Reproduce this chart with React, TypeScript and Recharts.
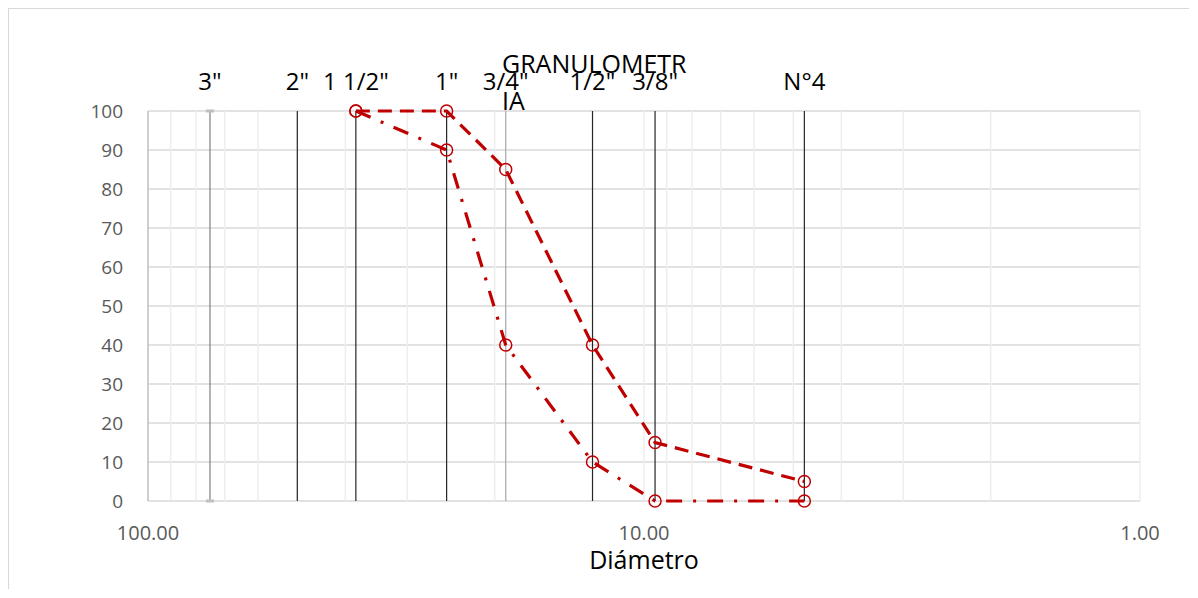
import React from "react";
import {
  ComposedChart,
  Line,
  XAxis,
  YAxis,
  CartesianGrid,
  ReferenceLine,
  ReferenceDot,
} from "recharts";

// Sieve openings (mm) and passing percentages
const sieveSizes = [38.1, 25, 19, 12.7, 9.5, 4.75];
const upperPassing = [100, 100, 85, 40, 15, 5];
const lowerPassing = [100, 90, 40, 10, 0, 0];

// Vertical sieve markers with their top labels
const sieveMarks = [
  { size: 75, label: '3"', color: "#7f7f7f" },
  { size: 50, label: '2"', color: "#262626" },
  { size: 38.1, label: '1 1/2"', color: "#262626" },
  { size: 25, label: '1"', color: "#262626" },
  { size: 19, label: '3/4"', color: "#a6a6a6" },
  { size: 12.7, label: '1/2"', color: "#262626" },
  { size: 9.5, label: '3/8"', color: "#262626" },
  { size: 4.75, label: "N°4", color: "#262626" },
];

const minorGrid = [90, 80, 70, 60, 50, 40, 30, 20, 10, 9, 8, 7, 6, 5, 4, 3, 2, 1];
const xTicks = [100, 10, 1];
const yTicks = [0, 10, 20, 30, 40, 50, 60, 70, 80, 90, 100];

const data = sieveSizes.map((d, i) => ({
  d,
  upper: upperPassing[i],
  lower: lowerPassing[i],
}));

const RED = "#c00000";
const FONT = "'Open Sans', sans-serif";

const ringDot = (props: any) => {
  const { cx, cy, index } = props;
  if (cx == null || cy == null) return <g key={index} />;
  return (
    <circle key={index} cx={cx} cy={cy} r={6} fill="none" stroke={RED} strokeWidth={1.5} />
  );
};

const tinyBar = (props: any) => (
  <rect x={props.cx - 4} y={props.cy - 1.5} width={8} height={3} fill="#bfbfbf" />
);

export default function App() {
  return (
    <div
      style={{
        position: "relative",
        width: 1182,
        height: 582,
        margin: "-1px 0 0 -1px",
      }}
    >
      {/* outer chart frame: only its left and top edges are on the page */}
      <div style={{ position: "absolute", left: 0, top: 0, width: 1182, height: 2, background: "#d9d9d9" }} />
      <div style={{ position: "absolute", left: 0, top: 0, width: 2, height: 582, background: "#d9d9d9" }} />
      <div style={{ position: "absolute", left: 1, top: 1 }}>
        <ComposedChart
          width={1181}
          height={581}
          data={data}
          margin={{ top: 103, right: 49, bottom: 18, left: 80 }}
        >
          <CartesianGrid vertical={false} stroke="#d9d9d9" strokeWidth={1.5} />
          {minorGrid.map((v) => (
            <ReferenceLine key={"g" + v} x={v} stroke="#ededed" strokeWidth={1.5} />
          ))}
          <XAxis
            dataKey="d"
            type="number"
            scale="log"
            domain={[1, 100]}
            reversed
            allowDataOverflow
            ticks={xTicks}
            tickFormatter={(v: number) => v.toFixed(2)}
            tick={{ fill: "#595959", fontSize: 20, fontFamily: FONT }}
            tickSize={0}
            tickMargin={25}
            axisLine={false}
            height={70}
            label={{
              value: "Diámetro",
              position: "insideBottom",
              offset: 2,
              fill: "#000",
              fontSize: 25,
              fontFamily: FONT,
            }}
          />
          <YAxis
            type="number"
            domain={[0, 100]}
            ticks={yTicks}
            tick={{ fill: "#595959", fontSize: 19, fontFamily: FONT }}
            tickSize={0}
            tickMargin={25}
            width={60}
            axisLine={{ stroke: "#bfbfbf", strokeWidth: 1.5 }}
          />
          {sieveMarks.map((m) => (
            <ReferenceLine
              key={m.label}
              x={m.size}
              stroke={m.color}
              strokeWidth={1.2}
              label={{
                value: m.label,
                position: "top",
                offset: 21,
                fill: "#000",
                fontSize: 24,
                fontFamily: FONT,
              }}
            />
          ))}
          <ReferenceDot x={75} y={100} shape={tinyBar} />
          <ReferenceDot x={75} y={0} shape={tinyBar} />
          <Line
            dataKey="upper"
            type="linear"
            stroke={RED}
            strokeWidth={3.2}
            strokeDasharray="14 8"
            dot={ringDot}
            activeDot={false}
            isAnimationActive={false}
          />
          <Line
            dataKey="lower"
            type="linear"
            stroke={RED}
            strokeWidth={3.2}
            strokeDasharray="16 11 3 11"
            dot={ringDot}
            activeDot={false}
            isAnimationActive={false}
          />
        </ComposedChart>
      </div>
      <div
        style={{
          position: "absolute",
          left: 495,
          top: 38,
          fontSize: 25,
          lineHeight: "37px",
          color: "#000",
          whiteSpace: "nowrap",
          fontFamily: FONT,
        }}
      >
        GRANULOMETR
        <br />
        IA
      </div>
    </div>
  );
}
